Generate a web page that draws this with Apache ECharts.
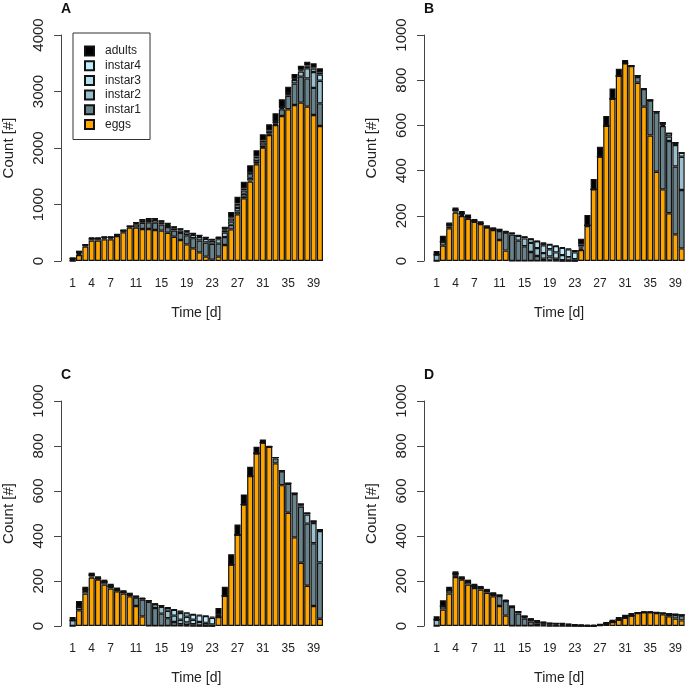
<!DOCTYPE html>
<html>
<head>
<meta charset="utf-8">
<script src="https://cdn.jsdelivr.net/npm/echarts@6/dist/echarts.min.js"></script>
<style>html,body{margin:0;padding:0;background:#fff}#c{width:685px;height:687px}</style>
</head>
<body>
<div id="c"></div>
<script>
const days = Array.from({length:40},(_,i)=>String(i+1));
const shownTicks = [1,4,7,11,15,19,23,27,31,35,39];
const stageNames = ['eggs','instar1','instar2','instar3','instar4','adults'];
const stageColors = ['#FFA500','#68838B','#9AC0CD','#B2DFEE','#BFEFFF','#000000'];
const legendOrder = ['adults','instar4','instar3','instar2','instar1','eggs'];
const panelLabels = ['A','B','C','D'];
const yMax = [4000,1000,1000,1000];
const yStep = [1000,200,200,200];

// Panel A
const aEggs = [0,106,254,360,360,384,384,443,507,590,590,566,566,549,537,501,430,372,295,224,153,77,24,77,283,560,826,1109,1404,1711,2006,2230,2407,2567,2685,2762,2803,2732,2584,2390];
const aI1 = [0,20,15,25,25,20,20,12,22,15,60,110,120,130,110,100,110,125,160,180,210,250,280,230,140,80,50,30,20,15,10,5,15,120,240,380,460,500,480,400];
const aI2 = [45,15,10,10,10,10,10,6,8,6,20,40,45,50,40,40,40,45,55,60,62,65,55,80,80,60,60,50,50,40,30,20,15,20,30,60,90,180,280,400];
const aI3 = [0,10,5,5,5,5,5,4,4,3,6,10,12,15,15,15,18,20,18,18,20,18,17,25,40,50,50,60,60,50,50,30,25,10,10,15,20,30,60,110];
const aI4 = [0,5,3,3,3,3,3,2,3,2,3,5,6,6,7,6,6,6,6,5,6,6,5,8,15,25,30,35,39,33,36,24,12,5,6,8,10,16,25,40];
const aAdults = [15,27,8,10,10,8,8,5,5,4,5,6,6,5,5,5,4,4,3,3,3,3,3,10,50,92,123,120,120,110,110,110,140,140,115,85,74,70,70,70];

// Panel B
const bEggs = [0,68,145,214,199,187,173,164,148,137,93,46,0,0,0,0,0,0,0,0,0,0,0,49,155,317,462,598,718,819,875,863,789,683,555,395,317,211,118,56];
const bI1 = [0,18,8,5,5,5,3,2,2,4,40,80,117,90,65,40,22,10,5,2,0,0,0,5,3,0,0,0,0,0,0,0,25,78,155,262,280,320,300,258];
const bI2 = [28,0,5,7,5,0,0,0,0,0,3,3,5,22,35,40,35,25,15,8,4,2,0,5,0,0,0,0,0,0,0,0,5,2,2,4,5,20,95,147];
const bI3 = [0,0,0,0,0,0,0,0,0,0,0,0,0,0,6,17,30,35,32,28,22,15,8,5,0,0,0,0,0,0,0,0,0,0,0,0,10,14,11,18];
const bI4 = [0,0,0,0,0,0,0,0,0,0,0,0,0,0,0,0,0,9,21,28,32,35,30,10,0,0,0,0,0,0,0,0,0,0,0,0,0,0,0,0];
const bAdults = [16,26,12,11,12,14,10,10,8,8,7,5,3,3,2,2,3,2,2,2,2,3,11,25,46,46,44,44,45,32,14,4,0,0,0,0,0,0,0,0];

// Panel C
const cEggs = [0,70,144,215,206,184,166,154,144,132,89,43,0,0,0,0,0,0,0,0,0,0,0,40,134,273,405,540,666,767,815,797,723,626,503,394,281,179,89,32];
const cI1 = [0,15,12,5,5,12,10,7,7,8,38,75,108,80,55,35,18,8,4,2,0,0,0,0,0,0,0,0,0,0,0,0,22,62,129,193,250,276,279,250];
const cI2 = [25,0,5,7,0,0,0,0,0,0,3,4,4,17,30,33,28,20,12,6,3,2,0,0,0,0,0,0,0,0,0,0,4,2,2,3,6,40,90,140];
const cI3 = [0,0,0,0,0,0,0,0,0,0,0,0,0,0,5,13,26,30,25,20,15,12,7,3,0,0,0,0,0,0,0,0,0,0,0,0,5,7,8,7];
const cI4 = [0,0,0,0,0,0,0,0,0,0,0,0,0,0,0,0,0,7,16,23,29,30,30,10,0,0,0,0,0,0,0,0,0,0,0,0,0,0,0,0];
const cAdults = [15,26,13,10,10,10,12,10,8,8,6,4,2,2,2,2,2,2,2,2,2,2,5,27,40,46,46,45,42,30,14,3,0,0,0,0,0,0,0,0];

// Panel D
const dEggs = [0,73,144,218,206,184,169,162,148,132,89,46,0,0,0,0,0,0,0,0,0,0,0,0,0,1,3,10,18,28,37,46,58,61,61,58,52,43,33,25];
const dI1 = [0,15,15,8,5,12,8,6,8,10,44,65,84,55,33,20,10,5,2,1,0,0,0,0,0,0,0,0,0,0,0,0,0,0,0,2,4,10,17,22];
const dI2 = [28,0,0,7,0,0,0,0,0,0,2,2,3,8,10,11,11,8,6,5,5,3,2,1,0,0,0,0,0,0,0,0,0,0,0,0,0,0,2,2];
const dI3 = [0,0,0,0,0,0,0,0,0,0,0,0,0,0,0,0,2,3,3,4,4,3,2,1,1,0,0,0,0,0,0,0,0,0,0,0,0,0,0,0];
const dI4 = [0,0,0,0,0,0,0,0,0,0,0,0,0,0,0,0,0,0,1,1,2,2,2,2,2,1,0,0,0,0,0,0,0,0,0,0,0,0,0,0];
const dAdults = [15,26,15,10,10,10,11,10,9,8,6,4,2,2,2,2,2,2,1,1,1,1,1,2,3,5,7,8,10,12,13,12,4,3,3,2,2,2,0,0];

const panelData = [
  [aEggs,aI1,aI2,aI3,aI4,aAdults],
  [bEggs,bI1,bI2,bI3,bI4,bAdults],
  [cEggs,cI1,cI2,cI3,cI4,cAdults],
  [dEggs,dI1,dI2,dI3,dI4,dAdults]
];

const FONT = 'Liberation Sans, Arial, Helvetica, sans-serif';
const TXT = '#222';
const gridPos = [
  {left:69.5, top:35, width:253.6, height:226, axisX:61},
  {left:433.5, top:35, width:253.6, height:226, axisX:424},
  {left:69.5, top:401, width:253.6, height:225, axisX:61},
  {left:433.5, top:401, width:253.6, height:225, axisX:424}
];

const grids=[], xAxes=[], yAxes=[], series=[], graphics=[];
gridPos.forEach((g,k)=>{
  grids.push({left:g.left, top:g.top, width:g.width, height:g.height, containLabel:false});
  xAxes.push({
    type:'category', gridIndex:k, data:days,
    axisLine:{show:false}, axisTick:{show:false},
    axisLabel:{interval:(i)=>shownTicks.indexOf(i+1)>=0, margin:17, fontSize:12, color:TXT, fontFamily:FONT},
    name:'Time [d]', nameLocation:'middle', nameGap:45,
    nameTextStyle:{fontSize:14, color:TXT, fontFamily:FONT}
  });
  yAxes.push({
    type:'value', gridIndex:k, min:0, max:yMax[k], interval:yStep[k],
    offset: g.left - g.axisX,
    axisLine:{show:true, lineStyle:{color:'#444', width:1}},
    axisTick:{show:true, length:7, lineStyle:{color:'#444'}},
    splitLine:{show:false},
    axisLabel:{rotate:90, margin:15, fontSize:15, color:TXT, fontFamily:FONT, formatter:(v)=>String(v)},
    name:'Count [#]', nameLocation:'middle', nameGap:45, nameRotate:90,
    nameTextStyle:{fontSize:15, color:TXT, fontFamily:FONT}
  });
  panelData[k].forEach((arr,s)=>{
    series.push({
      type:'bar', name:stageNames[s], xAxisIndex:k, yAxisIndex:k, stack:'p'+k,
      data:arr, barCategoryGap:'4%',
      itemStyle:{color:stageColors[s], borderColor:'#111', borderWidth:1.2},
      emphasis:{disabled:true}, animation:false
    });
  });
  graphics.push({
    type:'text', left:g.axisX + 0, top:g.top - 33,
    style:{text:panelLabels[k], font:'bold 14px '+FONT, fill:'#111'}
  });
});

const chart = echarts.init(document.getElementById('c'), null, {renderer:'canvas'});
chart.setOption({
  animation:false,
  backgroundColor:'#fff',
  grid:grids, xAxis:xAxes, yAxis:yAxes, series:series,
  graphic:graphics,
  legend:{
    data:legendOrder, orient:'vertical', left:73, top:33,
    padding:[12,9,9,11], itemGap:2.7, itemWidth:9, itemHeight:9, icon:'rect',
    borderColor:'#333', borderWidth:1, backgroundColor:'#fff',
    textStyle:{fontSize:12, color:TXT, fontFamily:FONT, lineHeight:12, padding:[0,0,0,6]},
    selectedMode:false
  }
});
</script>
</body>
</html>
